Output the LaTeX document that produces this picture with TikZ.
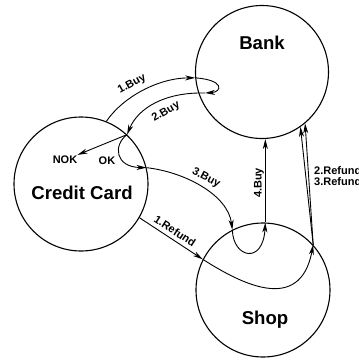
\documentclass[tikz,border=0pt]{standalone}
\usepackage{fontspec}
\setmainfont{Liberation Sans}
\usetikzlibrary{arrows.meta}

\begin{document}
\begin{tikzpicture}[x=1pt,y=-1pt,
  state/.style={circle,draw,line width=1.1pt,minimum size=134pt,inner sep=0pt},
  big/.style={font=\fontsize{18.6}{20}\selectfont\bfseries,inner sep=0pt},
  small/.style={font=\fontsize{11}{12}\selectfont\bfseries,inner sep=1pt},
  flow/.style={line width=0.9pt,-{Stealth[length=10pt,width=5pt,inset=3pt]}}]
\clip (0,0) rectangle (359,360);

% the three parties
\node[state,minimum size=133pt] (bank) at (262,72) {};
\node[state] (cc) at (81,184) {};
\node[state] (shop) at (263,290) {};
\node[big] (bankt) at (262,43) {Bank};
\node[big] (cct) at (82,193) {Credit Card};
\node[big] (shopt) at (265,320) {Shop};

% purchase: card -> bank -> card
\coordinate (bloop) at (205,93);
\draw[flow] (cc.68) .. controls (123,97) and (158,78) .. (bank.185);
\draw[flow] (bank.185) .. controls (225,80) and (222,92) .. (bloop);
\draw[flow] (bloop) .. controls (165,92) and (138,108) .. (cc.47);

% decision inside the card
\node[small] (nok) at (65,160) {NOK};
\node[small] (ok) at (107,161) {OK};
\draw[flow] (cc.47) -- (nok);
\draw[flow] (cc.47) .. controls (113,145) and (115,167) .. (cc.14);

% card -> shop -> bank
\draw[flow] (cc.14) .. controls (185,172) and (228,195) .. (shop.117);
\draw[flow] (shop.117) .. controls (233,258) and (263,265) .. (shop.88);
\draw[flow] (shop.88) -- (shop.88 |- bank.south);

% refund: card -> shop -> bank
\draw[flow] (cc.-30) -- (shop.153);
\draw[flow] (shop.153) .. controls (240,283) and (300,315) .. (shop.42);
\draw[flow] (shop.42) -- (bank.-55);
\draw[flow] (shop.42) -- (bank.-50);

% message labels
\node[small,rotate=29] (l1) at (132,84) {1.Buy};
\node[small,rotate=30] (l2) at (166,112) {2.Buy};
\node[small,rotate=-28] (l3) at (206,178) {3.Buy};
\node[small,rotate=90] (l4) at (259,183) {4.Buy};
\node[small,rotate=-33] (r1) at (175,231) {1.Refund};
\node[small,anchor=west] (r2) at (313,171) {2.Refund};
\node[small,anchor=west] (r3) at (313,182) {3.Refund};
\end{tikzpicture}
\end{document}
